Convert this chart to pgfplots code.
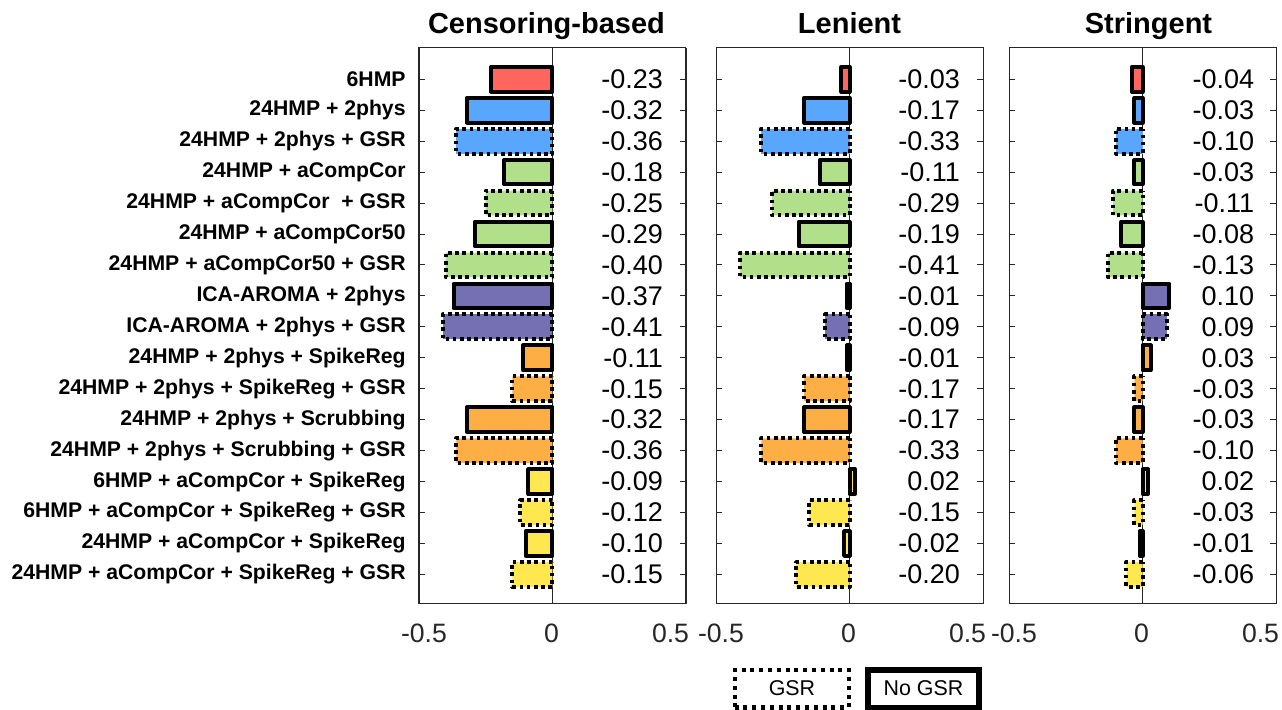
\documentclass[border=0pt]{standalone}
\usepackage{fontspec}
\setmainfont{Liberation Sans}
\usepackage{pgfplots}
\pgfplotsset{compat=1.18}
\definecolor{cred}{RGB}{255,102,94}
\definecolor{cblue}{RGB}{89,166,255}
\definecolor{cgreen}{RGB}{178,223,138}
\definecolor{cpurple}{RGB}{117,112,179}
\definecolor{corange}{RGB}{253,174,69}
\definecolor{cyellow}{RGB}{255,232,79}
\definecolor{cframe}{RGB}{38,38,38}
\tikzset{val/.style={anchor=east, inner sep=0pt, font=\fontsize{13.5}{16}\selectfont}}
\newcommand{\shiftlab}[2]{\makebox[0pt][c]{\hspace{#1}#2}}
\pgfplotsset{
  nogsr/.style={draw=black, line width=2pt, solid, line join=round},
  gsr/.style={draw=black, line width=2pt, dash pattern=on 1.8pt off 1.8pt, line join=round},
  panel/.style={
    scale only axis, width=133.5pt, height=277.9pt, anchor=south west,
    xbar, bar shift=0pt, bar width=0.8,
    xmin=-0.5, xmax=0.5, ymin=-0.02, ymax=17.94, y dir=reverse,
    ytick={1,...,17}, yticklabels={},
    xtick={-0.5,0,0.5},
    xticklabels={\shiftlab{5pt}{-0.5},\shiftlab{-1pt}{0},\shiftlab{-15.5pt}{0.5}},
    tick align=inside, ytick pos=both, xtick pos=bottom,
    major tick length=3pt,
    xmajorgrids, grid style={cframe, line width=0.4pt},
    axis line style={cframe, line width=0.5pt},
    tick style={cframe, line width=0.5pt},
    x tick label style={font=\fontsize{13.3}{16}\selectfont, text=cframe, inner sep=0pt, yshift=-10pt},
    title style={at={(0.5,1)}, anchor=base, yshift=1pt, font=\bfseries\fontsize{14.5}{17}\selectfont},
    clip=false,
  },
}
\begin{document}
\begin{tikzpicture}
\useasboundingbox (0,0) rectangle (641pt,354.5pt);
% ---------------- Censoring-based
\begin{axis}[panel, at={(209.5pt,52.75pt)}, title={Censoring-based}, title style={xshift=-3pt},
  yticklabels={6HMP, 24HMP + 2phys, 24HMP + 2phys + GSR, 24HMP + aCompCor, 24HMP + aCompCor~ + GSR, 24HMP + aCompCor50, 24HMP + aCompCor50 + GSR, ICA-AROMA + 2phys, ICA-AROMA + 2phys + GSR, 24HMP + 2phys + SpikeReg, 24HMP + 2phys + SpikeReg + GSR, 24HMP + 2phys + Scrubbing, 24HMP + 2phys + Scrubbing + GSR, 6HMP + aCompCor + SpikeReg, 6HMP + aCompCor + SpikeReg + GSR, 24HMP + aCompCor + SpikeReg, 24HMP + aCompCor + SpikeReg + GSR},
  y tick label style={font=\bfseries\fontsize{10.6}{12}\selectfont, inner sep=0pt, xshift=-6.5pt, anchor=east}]
\addplot[nogsr, fill=cred] coordinates {(-0.23,1)};
\addplot[nogsr, fill=cblue] coordinates {(-0.32,2)};
\addplot[gsr, fill=cblue] coordinates {(-0.36,3)};
\addplot[nogsr, fill=cgreen] coordinates {(-0.18,4) (-0.29,6)};
\addplot[gsr, fill=cgreen] coordinates {(-0.25,5) (-0.40,7)};
\addplot[nogsr, fill=cpurple] coordinates {(-0.37,8)};
\addplot[gsr, fill=cpurple] coordinates {(-0.41,9)};
\addplot[nogsr, fill=corange] coordinates {(-0.11,10) (-0.32,12)};
\addplot[gsr, fill=corange] coordinates {(-0.15,11) (-0.36,13)};
\addplot[nogsr, fill=cyellow] coordinates {(-0.09,14) (-0.10,16)};
\addplot[gsr, fill=cyellow] coordinates {(-0.12,15) (-0.15,17)};
\foreach \v [count=\i] in {-0.23,-0.32,-0.36,-0.18,-0.25,-0.29,-0.40,-0.37,-0.41,-0.11,-0.15,-0.32,-0.36,-0.09,-0.12,-0.10,-0.15}
  {\edef\temp{\noexpand\node[val] at (axis cs:0.415,\i) {\v};}\temp}
\end{axis}
% ---------------- Lenient
\begin{axis}[panel, at={(358pt,52.75pt)}, title={Lenient}]
\addplot[nogsr, fill=cred] coordinates {(-0.03,1)};
\addplot[nogsr, fill=cblue] coordinates {(-0.17,2)};
\addplot[gsr, fill=cblue] coordinates {(-0.33,3)};
\addplot[nogsr, fill=cgreen] coordinates {(-0.11,4) (-0.19,6)};
\addplot[gsr, fill=cgreen] coordinates {(-0.29,5) (-0.41,7)};
\addplot[nogsr, fill=cpurple] coordinates {(-0.01,8)};
\addplot[gsr, fill=cpurple] coordinates {(-0.09,9)};
\addplot[nogsr, fill=corange] coordinates {(-0.01,10) (-0.17,12)};
\addplot[gsr, fill=corange] coordinates {(-0.17,11) (-0.33,13)};
\addplot[nogsr, fill=cyellow] coordinates {(0.02,14) (-0.02,16)};
\addplot[gsr, fill=cyellow] coordinates {(-0.15,15) (-0.20,17)};
\foreach \v [count=\i] in {-0.03,-0.17,-0.33,-0.11,-0.29,-0.19,-0.41,-0.01,-0.09,-0.01,-0.17,-0.17,-0.33,0.02,-0.15,-0.02,-0.20}
  {\edef\temp{\noexpand\node[val] at (axis cs:0.415,\i) {\v};}\temp}
\end{axis}
% ---------------- Stringent
\begin{axis}[panel, at={(504.5pt,52.75pt)}, title={Stringent}, title style={xshift=3pt}]
\addplot[nogsr, fill=cred] coordinates {(-0.04,1)};
\addplot[nogsr, fill=cblue] coordinates {(-0.03,2)};
\addplot[gsr, fill=cblue] coordinates {(-0.10,3)};
\addplot[nogsr, fill=cgreen] coordinates {(-0.03,4) (-0.08,6)};
\addplot[gsr, fill=cgreen] coordinates {(-0.11,5) (-0.13,7)};
\addplot[nogsr, fill=cpurple] coordinates {(0.10,8)};
\addplot[gsr, fill=cpurple] coordinates {(0.09,9)};
\addplot[nogsr, fill=corange] coordinates {(0.03,10) (-0.03,12)};
\addplot[gsr, fill=corange] coordinates {(-0.03,11) (-0.10,13)};
\addplot[nogsr, fill=cyellow] coordinates {(0.02,14) (-0.01,16)};
\addplot[gsr, fill=cyellow] coordinates {(-0.03,15) (-0.06,17)};
\foreach \v [count=\i] in {-0.04,-0.03,-0.10,-0.03,-0.11,-0.08,-0.13,0.10,0.09,0.03,-0.03,-0.03,-0.10,0.02,-0.03,-0.01,-0.06}
  {\edef\temp{\noexpand\node[val] at (axis cs:0.42,\i) {\v};}\temp}
\end{axis}
% ---------------- legend
\draw[black, line width=2.2pt, dash pattern=on 2pt off 2.4pt] (367.5pt,0.8pt) rectangle (424.5pt,19.5pt);
\node[font=\fontsize{10.7}{12}\selectfont] at (396pt,10.2pt) {GSR};
\draw[black, line width=2.8pt] (434pt,0.8pt) rectangle (489.5pt,19.5pt);
\node[font=\fontsize{10.7}{12}\selectfont] at (461.75pt,10.2pt) {No GSR};
\end{tikzpicture}
\end{document}
